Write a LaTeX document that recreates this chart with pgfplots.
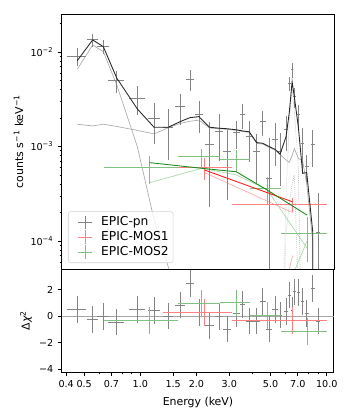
\documentclass[border=0pt]{standalone}
\usepackage{fontspec}
\setmainfont{DejaVu Sans}
\usepackage{pgfplots}
\pgfplotsset{compat=1.18}
\usepackage{pgfplotstable}

\definecolor{pndata}{HTML}{858585}
\definecolor{pnmod}{HTML}{262626}
\definecolor{pncomp}{HTML}{ABABAB}
\definecolor{m1data}{HTML}{FF8080}
\definecolor{m1mod}{HTML}{FF1A1A}
\definecolor{m1comp}{HTML}{FFA8A8}
\definecolor{m2data}{HTML}{80C080}
\definecolor{m2mod}{HTML}{1A8A1A}
\definecolor{m2comp}{HTML}{A8D8A8}

% EPIC-pn: energy, rate, half bin, err minus, err plus, residual
\pgfplotstableread{
E C ex eym eyp r
0.459 0.00907 0.055 0.0020 0.0020 0.50
0.555 0.0134 0.036 0.0021 0.0021 -0.25
0.633 0.0114 0.045 0.0020 0.0020 -0.05
0.747 0.00497 0.075 0.0013 0.0013 -0.45
0.963 0.00324 0.095 0.0011 0.0011 0.50
1.184 0.00197 0.090 0.0009 0.0009 0.40
1.414 0.00160 0.085 0.00088 0.00088 0.00
1.633 0.00264 0.100 0.00094 0.00094 0.83
1.847 0.00514 0.095 0.0013 0.0013 2.47
2.065 0.00221 0.110 0.00083 0.00083 0.25
2.345 0.00105 0.130 0.00082 0.00078 -0.75
2.65 0.00146 0.140 0.00076 0.00076 -0.05
2.93 0.00088 0.140 0.00061 0.00061 -0.98
3.29 0.00140 0.150 0.00045 0.00045 0.20
3.54 0.00216 0.120 0.00064 0.00064 0.88
3.84 0.00127 0.170 0.00059 0.00059 -0.38
4.21 0.00088 0.180 0.00047 0.00047 -0.38
4.54 0.00183 0.160 0.00055 0.00055 1.08
4.90 0.00046 0.200 0.00044 0.00077 -1.00
5.30 0.00119 0.200 0.00057 0.00057 0.50
5.62 0.00088 0.120 0.00050 0.00050 0.08
6.05 0.00150 0.120 0.00060 0.00060 0.33
6.30 0.00466 0.100 0.00080 0.00080 1.58
6.52 0.00650 0.100 0.00120 0.00120 0.45
6.70 0.00337 0.100 0.00080 0.00080 1.83
7.04 0.00216 0.120 0.00060 0.00060 1.76
7.43 0.00108 0.150 0.00050 0.00050 1.08
7.81 0.00062 0.180 0.00020 0.00020 0.20
8.41 0.00105 0.220 0.00045 0.00045 2.09
9.00 0.000124 0.250 0.00012 0.00020 -0.38
}\pn

\pgfplotstableread{
E C ex eym eyp r
2.21 0.00060 0.88 0.00016 0.00016 0.25
6.555 0.000244 3.445 0.00004 0.00004 -0.35
}\mosone

\pgfplotstableread{
E C ex eym eyp r
1.12 0.00060 0.48 0.00020 0.00020 -0.33
2.135 0.00078 0.535 0.00017 0.00017 0.93
3.275 0.00073 0.605 0.00019 0.00019 1.00
4.785 0.00036 0.905 0.00012 0.00012 0.05
7.845 0.00012 2.155 0.00006 0.00006 -1.16
}\mostwo

\pgfplotsset{
  every axis/.append style={
    scale only axis, width=204pt,
    xmode=log, xmin=0.38, xmax=10.94,
    axis line style={line width=0.75pt},
    tick style={line width=0.6pt, black},
    tick align=outside,
    major tick length=3pt, minor tick length=1.7pt,
    xtick pos=bottom, ytick pos=left,
    tick label style={font=\fontsize{7.2}{8.2}\selectfont},
    label style={font=\fontsize{8.2}{9.8}\selectfont},
  },
  databars/.style={only marks, mark size=0pt, mark options={draw=none, fill=none}, forget plot,
    error bars/.cd, x dir=both, x explicit, y dir=both, y explicit,
    error mark=none, error bar style={#1, line width=0.65pt}},
  resbars/.style={only marks, mark size=0pt, mark options={draw=none, fill=none}, forget plot,
    error bars/.cd, x dir=both, x explicit, y dir=both, y fixed=1,
    error mark=none, error bar style={#1, line width=0.65pt}},
  legcross/.style={legend image code/.code={
    \path (0pt,0pt) (21pt,0pt);
    \draw[#1, line width=0.65pt] (10.5pt,-5pt)--(10.5pt,5pt) (5.25pt,0pt)--(15.75pt,0pt);}},
}

\begin{document}
\begin{tikzpicture}
\begin{axis}[
  name=top, height=191.25pt,
  ymode=log, ymin=5.06e-5, ymax=0.0252,
  xtick=\empty,
  ytick={1e-4,1e-3,1e-2},
  yticklabels={10\textsuperscript{−4},10\textsuperscript{−3},10\textsuperscript{−2}},
  minor ytick={6e-5,7e-5,8e-5,9e-5,2e-4,3e-4,4e-4,5e-4,6e-4,7e-4,8e-4,9e-4,2e-3,3e-3,4e-3,5e-3,6e-3,7e-3,8e-3,9e-3,2e-2},
  ylabel={counts s\textsuperscript{−1} keV\textsuperscript{−1}},
  ylabel style={at={(axis description cs:-0.16,0.5)}, anchor=center},
  legend style={at={(0.022,0.0235)}, anchor=south west,
    font=\fontsize{9.2}{11}\selectfont, draw=black!18, rounded corners=2pt,
    fill=white, fill opacity=0.8, text opacity=1, row sep=0.3pt,
    inner xsep=2pt, inner ysep=2.5pt, nodes={inner sep=1.3pt}},
  legend cell align=left,
]
% pn model components
\addplot[pncomp, line width=0.5pt, forget plot] coordinates {
 (0.459,0.00656) (0.555,0.01186) (0.633,0.01007) (0.747,0.0045)
 (0.963,0.0010) (1.184,0.00017) (1.414,0.000053) (1.633,0.000012)};
\addplot[pncomp, line width=0.5pt, forget plot] coordinates {
 (0.459,0.00172) (0.555,0.00165) (0.633,0.00172) (0.747,0.00163)
 (0.963,0.00148) (1.184,0.00136) (1.414,0.00158) (1.633,0.00175)
 (1.847,0.00185) (2.065,0.0019) (2.345,0.00157) (2.65,0.00154)
 (2.93,0.00152) (3.29,0.00148) (3.54,0.00144) (3.84,0.00141)
 (4.21,0.00108) (4.54,0.00106) (4.90,0.00098) (5.30,0.00091)
 (5.62,0.00082) (6.05,0.00072) (6.30,0.00068) (6.52,0.00080)
 (6.70,0.00095) (7.04,0.00075) (7.43,0.00070) (7.81,0.0004)
 (8.41,0.0001) (8.43,0.000001)};
\addplot[pncomp, densely dotted, line width=0.5pt, forget plot] coordinates {
 (5.62,0.000001) (6.05,0.0003) (6.30,0.0019) (6.52,0.0041)
 (6.70,0.0024) (7.04,0.0006) (7.43,0.000001)};
\addplot[pncomp, densely dotted, line width=0.5pt, forget plot] coordinates {
 (5.62,0.000001) (6.05,0.00012) (6.30,0.00025) (6.52,0.0004)
 (6.70,0.0005) (7.04,0.00003) (7.43,0.000001)};

% MOS components
\addplot[m1comp, line width=0.5pt, forget plot] coordinates {
 (2.21,0.00053) (6.555,0.0002)};
\addplot[m1comp, line width=0.5pt, forget plot] coordinates {
 (2.21,0.00000001) (6.555,0.00007)};
\addplot[m2comp, line width=0.5pt, forget plot] coordinates {
 (1.12,0.000414) (2.135,0.000588) (3.275,0.0005) (4.785,0.00035) (7.845,0.000084)};
\addplot[m2comp, line width=0.5pt, forget plot] coordinates {
 (4.785,0.00001) (7.845,0.0001)};

% data
\addplot[databars=pndata] table[x=E, y=C, x error=ex, y error minus=eym, y error plus=eyp] {\pn};
\addplot[databars=m1data] table[x=E, y=C, x error=ex, y error minus=eym, y error plus=eyp] {\mosone};
\addplot[databars=m2data] table[x=E, y=C, x error=ex, y error minus=eym, y error plus=eyp] {\mostwo};

% total models
\addplot[pnmod, line width=0.65pt, forget plot] coordinates {
 (0.459,0.00809) (0.555,0.0134) (0.633,0.01138) (0.747,0.0053)
 (0.963,0.0025) (1.184,0.00160) (1.414,0.00160) (1.633,0.00183)
 (1.847,0.00202) (2.065,0.00207) (2.345,0.00160) (2.65,0.00156)
 (2.93,0.00154) (3.29,0.00150) (3.54,0.00146) (3.84,0.00143)
 (4.21,0.00110) (4.54,0.00108) (4.90,0.00100) (5.30,0.00093)
 (5.62,0.00083) (6.05,0.00127) (6.30,0.00230) (6.52,0.00485)
 (6.70,0.00337) (7.04,0.00162) (7.43,0.00052) (7.81,0.00053)
 (8.41,0.000126) (8.43,0.000001)};
\addplot[m1mod, line width=0.65pt, forget plot] coordinates {
 (2.21,0.000564) (6.555,0.00026)};
\addplot[m2mod, line width=0.65pt, forget plot] coordinates {
 (1.12,0.000675) (2.135,0.000588) (3.275,0.00054) (4.785,0.000347) (7.845,0.000188)};

\addlegendimage{legcross=pndata}
\addlegendentry{EPIC-pn}
\addlegendimage{legcross=m1data}
\addlegendentry{EPIC-MOS1}
\addlegendimage{legcross=m2data}
\addlegendentry{EPIC-MOS2}
\end{axis}

\begin{axis}[
  name=bot, at={(top.south west)}, anchor=north west, height=77.25pt,
  ymin=-4.23, ymax=3.55,
  xtick={0.4,0.5,0.7,1,1.5,2,3,5,7,10},
  xticklabels={0.4,0.5,0.7,1.0,1.5,2.0,3.0,5.0,7.0,10.0},
  minor xtick={0.6,0.8,0.9,4,6,8,9},
  ytick={-4,-2,0,2}, yticklabels={−4,−2,0,2},
  xlabel={Energy (keV)},
  ylabel={Δ\textit{χ}\textsuperscript{2}},
  ylabel style={at={(axis description cs:-0.132,0.5)}, anchor=center},
]
\addplot[black!35, line width=0.4pt] coordinates {(0.3,0) (12,0)};
\addplot[resbars=pndata] table[x=E, y=r, x error=ex] {\pn};
\addplot[resbars=m1data] table[x=E, y=r, x error=ex] {\mosone};
\addplot[resbars=m2data] table[x=E, y=r, x error=ex] {\mostwo};
\end{axis}
\path ([shift={(-46.5pt,10.5pt)}]top.north west) rectangle ([shift={(11.25pt,-34.5pt)}]bot.south east);
\end{tikzpicture}
\end{document}
